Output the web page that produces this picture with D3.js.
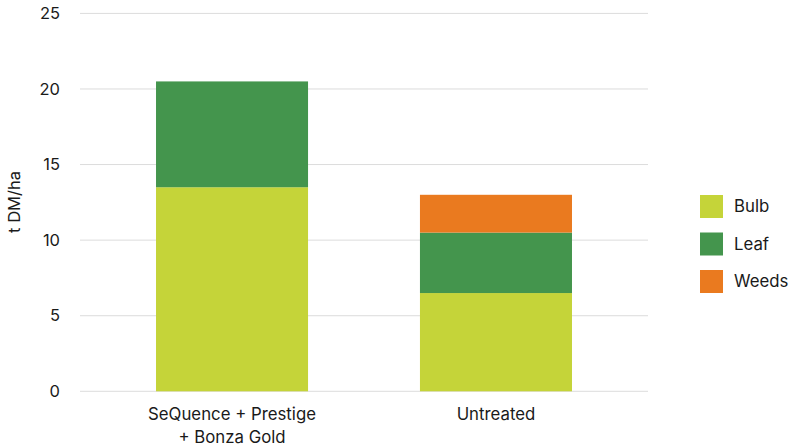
<!DOCTYPE html>
<html><head><meta charset="utf-8">
<script src="https://cdn.jsdelivr.net/npm/d3@7"></script>
<style>body{margin:0;background:#fff;} text{font-family:Inter,"Liberation Sans",sans-serif;fill:#1a1a1a;}</style>
</head><body><svg id="c" width="792" height="446"></svg>
<script>
const categories = ["SeQuence + Prestige\n+ Bonza Gold", "Untreated"];
const seriesNames = ["Bulb", "Leaf", "Weeds"];
const bulb = [13.5, 6.5];
const leaf = [7.0, 4.0];
const weeds = [0, 2.5];
const yTicks = [0, 5, 10, 15, 20, 25];
const colors = ["#c5d439", "#44954d", "#ea7a1f"];

const svg = d3.select("#c");
const x = d3.scaleBand().domain(categories).range([80, 648]).paddingInner(0.424).paddingOuter(0.288);
const y = d3.scaleLinear().domain([0, 25]).range([391.3, 13.4]);

const rows = categories.map((c, i) => ({cat: c, Bulb: bulb[i], Leaf: leaf[i], Weeds: weeds[i]}));
const stacked = d3.stack().keys(seriesNames)(rows);

// grid
svg.append("g").selectAll("line").data(yTicks).join("line")
  .attr("x1", 80).attr("x2", 648)
  .attr("y1", d => y(d)).attr("y2", d => y(d))
  .attr("stroke", "#dcdcdc").attr("stroke-width", 1);

// y tick labels
svg.append("g").selectAll("text").data(yTicks).join("text")
  .attr("x", 60).attr("y", d => y(d)).attr("dy", "0.35em")
  .attr("text-anchor", "end").attr("font-size", 16.5).text(d => d);

// bars
svg.append("g").selectAll("g").data(stacked).join("g")
  .attr("fill", (d, i) => colors[i])
  .selectAll("rect").data(d => d).join("rect")
  .attr("x", d => x(d.data.cat)).attr("width", x.bandwidth())
  .attr("y", d => y(d[1])).attr("height", d => y(d[0]) - y(d[1]));

// x labels
const xl = svg.append("g").selectAll("text").data(categories).join("text")
  .attr("x", d => x(d) + x.bandwidth() / 2).attr("y", 420)
  .attr("text-anchor", "middle").attr("font-size", 16.8);
xl.each(function(d) {
  const t = d3.select(this);
  d.split("\n").forEach((line, j) => {
    t.append("tspan").attr("x", x(d) + x.bandwidth() / 2).attr("dy", j === 0 ? 0 : 22.5).text(line);
  });
});

// y axis title
svg.append("text").attr("transform", "translate(20,202) rotate(-90)")
  .attr("text-anchor", "middle").attr("font-size", 16.5).text("t DM/ha");

// legend
const lg = svg.append("g").selectAll("g").data(seriesNames).join("g")
  .attr("transform", (d, i) => `translate(700,${195 + i * 37.5})`);
lg.append("rect").attr("width", 23).attr("height", 23).attr("fill", (d, i) => colors[i]);
lg.append("text").attr("x", 34).attr("y", 11.5).attr("dy", "0.35em").attr("font-size", 16.8).text(d => d);
</script></body></html>
